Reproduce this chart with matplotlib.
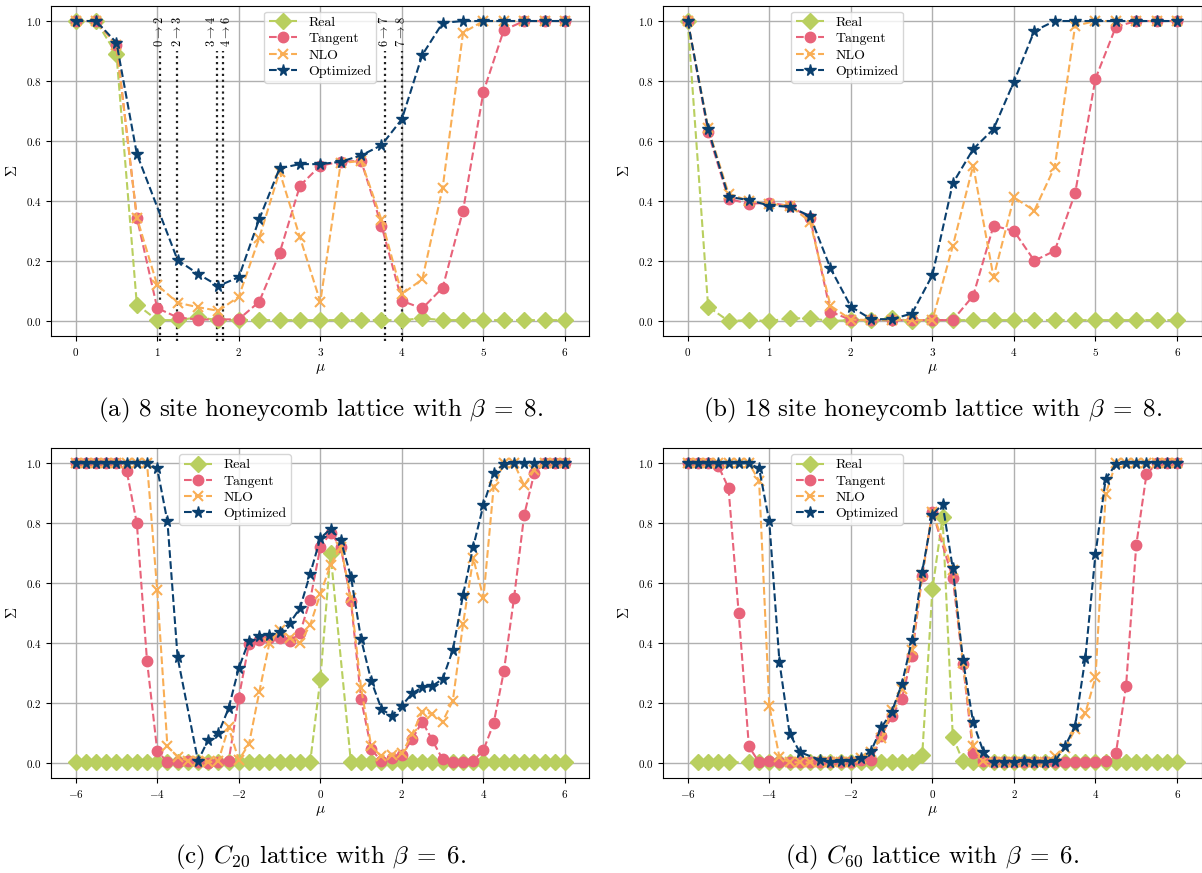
import numpy as np
import matplotlib
matplotlib.use("Agg")
import matplotlib.pyplot as plt
import matplotlib.transforms as mtransforms

plt.rcParams['font.family'] = 'serif'
plt.rcParams['font.serif'] = ['cmr10', 'DejaVu Serif']
plt.rcParams['mathtext.fontset'] = 'cm'
plt.rcParams['axes.formatter.use_mathtext'] = True

# chemical potential grids
mu_ab = np.linspace(0, 6, 25)
mu_cd = np.linspace(-6, 6, 49)

# (a) 8 site honeycomb, beta = 8
real_a = [1.0, 1.0, 0.89, 0.055, 0.003, 0.003, 0.012, 0.003, 0.003, 0.003, 0.003, 0.003, 0.003,
          0.003, 0.003, 0.003, 0.003, 0.009, 0.003, 0.003, 0.003, 0.003, 0.003, 0.003, 0.003]
tangent_a = [1.0, 1.0, 0.92, 0.345, 0.043, 0.012, 0.005, 0.005, 0.006, 0.064, 0.226, 0.451, 0.518,
             0.531, 0.534, 0.318, 0.067, 0.042, 0.111, 0.368, 0.764, 0.97, 1.0, 1.0, 1.0]
nlo_a = [1.0, 1.0, 0.92, 0.345, 0.12, 0.061, 0.046, 0.034, 0.081, 0.276, 0.498, 0.279, 0.064,
         0.526, 0.534, 0.337, 0.09, 0.139, 0.444, 0.961, 1.0, 1.0, 1.0, 1.0, 1.0]
opt_a = [1.0, 1.0, 0.928, 0.557, None, 0.203, 0.157, 0.117, 0.146, 0.339, 0.509, 0.523, 0.523,
         0.531, 0.552, 0.586, 0.673, 0.887, 0.994, 1.0, 1.0, 1.0, 1.0, 1.0, 1.0]

# level crossings marked in (a): line position, label position, label
cross_mu = [1.03, 1.245, 1.735, 1.81, 3.79, 4.0]
cross_text_mu = [1.03, 1.245, 1.665, 1.85, 3.79, 4.0]
cross_labels = [r'$0 \rightarrow 2$', r'$2 \rightarrow 3$', r'$3 \rightarrow 4$',
                r'$4 \rightarrow 6$', r'$6 \rightarrow 7$', r'$7 \rightarrow 8$']

# (b) 18 site honeycomb, beta = 8
real_b = [1.0, 0.048, 0.0, 0.003, 0.0, 0.009, 0.009, 0.0, 0.003, 0.003, 0.009, 0.0, 0.003,
          0.003, 0.003, 0.003, 0.003, 0.003, 0.003, 0.003, 0.003, 0.003, 0.003, 0.003, 0.003]
tangent_b = [1.0, 0.629, 0.407, 0.391, 0.394, 0.384, 0.344, 0.031, 0.004, 0.003, 0.003, 0.003, 0.003,
             0.003, 0.084, 0.318, 0.3, 0.201, 0.234, 0.426, 0.808, 0.981, 1.0, 1.0, 1.0]
nlo_b = [1.0, 0.644, 0.425, 0.40, 0.39, 0.385, 0.331, 0.051, 0.005, 0.003, 0.003, 0.003, 0.003,
         0.25, 0.518, 0.146, 0.412, 0.368, 0.514, 0.984, 1.0, 1.0, 1.0, 1.0, 1.0]
opt_b = [1.0, 0.639, 0.414, 0.403, 0.385, 0.381, 0.35, 0.176, 0.048, 0.006, 0.006, 0.025, 0.153,
         0.459, 0.573, 0.64, 0.798, 0.967, 1.0, 1.0, 1.0, 1.0, 1.0, 1.0, 1.0]

# (c) C20, beta = 6
real_c = [0.003] * 24 + [0.28, 0.70, None] + [0.003] * 22
tangent_c = [1.0, 1.0, 1.0, 1.0, 1.0, 0.975, 0.80, 0.341, 0.042, 0.003, 0.003, 0.008, 0.005,
             0.0, 0.003, 0.006, 0.219, 0.398, 0.411, 0.417, 0.417, 0.406, 0.434, 0.544, 0.72,
             0.768, 0.722, 0.542, 0.213, 0.047, 0.006, 0.018, 0.028, 0.08, 0.139, 0.076, 0.013,
             0.003, 0.003, 0.008, 0.044, 0.133, 0.306, 0.551, 0.828, 0.969, 1.0, 1.0, 1.0]
nlo_c = [1.0, 1.0, 1.0, 1.0, 1.0, 1.0, 1.0, 1.0, 0.576, 0.056, 0.022, 0.009, 0.006,
         0.003, 0.008, 0.12, 0.011, 0.064, 0.236, 0.40, 0.444, 0.417, 0.40, 0.461, 0.564,
         0.661, 0.722, 0.55, 0.25, 0.056, 0.024, 0.028, 0.033, 0.097, 0.172, 0.164, 0.139,
         0.209, 0.464, 0.683, 0.552, 0.92, 1.0, 1.0, 0.926, 0.978, 1.0, 1.0, 1.0]
opt_c = [1.0, 1.0, 1.0, 1.0, 1.0, 1.0, 1.0, 1.0, 0.983, 0.806, 0.353, None, 0.008,
         0.078, 0.10, 0.183, 0.317, 0.409, 0.424, 0.428, 0.439, 0.467, 0.517, 0.631, 0.75,
         0.781, 0.744, 0.622, 0.414, 0.274, 0.181, 0.158, 0.192, 0.233, 0.253, 0.258, 0.281,
         0.378, 0.561, 0.722, 0.861, 0.967, 0.998, 1.0, 1.0, 1.0, 1.0, 1.0, 1.0]

# (d) C60, beta = 6
real_d = ([None, 0.003, 0.003, 0.003, 0.003, None] + [0.003] * 17
          + [0.026, 0.58, 0.82, 0.089, 0.006] + [0.003] * 21)
tangent_d = [1.0, 1.0, 1.0, 0.991, 0.918, 0.50, 0.056, 0.003, 0.006, 0.003, 0.003, 0.003, 0.003,
             0.003, 0.003, 0.003, 0.005, 0.01, 0.01, 0.091, 0.156, 0.215, 0.359, 0.624, 0.839,
             None, 0.617, 0.33, 0.033, 0.006, 0.003, 0.003, 0.003, 0.003, 0.003, 0.003, 0.003,
             0.003, 0.003, 0.003, 0.003, 0.008, 0.033, 0.259, 0.728, 0.963, 1.0, 1.0, 1.0]
nlo_d = [1.0, 1.0, 1.0, 1.0, 1.0, 1.0, 1.0, 0.942, 0.192, 0.02, 0.003, 0.003, 0.003,
         0.003, 0.003, 0.003, 0.003, 0.017, 0.039, 0.083, 0.178, 0.247, 0.378, 0.626, 0.839,
         None, 0.644, 0.333, 0.058, 0.006, 0.003, 0.003, 0.003, 0.003, 0.003, 0.003, 0.024,
         0.05, 0.113, 0.167, 0.286, 0.898, 1.0, 1.0, 1.0, 1.0, 1.0, 1.0, 1.0]
opt_d = [1.0, 1.0, 1.0, 1.0, 1.0, 1.0, 1.0, 0.983, 0.806, 0.337, 0.098, 0.037, None,
         0.011, 0.003, 0.006, 0.008, 0.017, 0.042, 0.12, 0.17, 0.264, 0.411, 0.639, 0.828,
         0.864, 0.65, 0.344, 0.136, 0.039, 0.003, 0.003, 0.003, 0.008, 0.003, 0.003, 0.006,
         0.056, 0.124, 0.35, 0.698, 0.948, 0.997, 1.0, 1.0, 1.0, 1.0, 1.0, 1.0]

captions = [r'(a) 8 site honeycomb lattice with $\beta\;=\;8$.',
            r'(b) 18 site honeycomb lattice with $\beta\;=\;8$.',
            r'(c) $C_{20}$ lattice with $\beta\;=\;6$.',
            r'(d) $C_{60}$ lattice with $\beta\;=\;6$.']

styles = [('Real', '#b9cf5f', 'D', 8.5),
          ('Tangent', '#e8637a', 'o', 7.5),
          ('NLO', '#f9ae55', 'x', 7),
          ('Optimized', '#0a3f6e', '*', 8.5)]


def draw(ax, mu, series, legend_x):
    for (label, color, marker, ms), vals in zip(styles, series):
        x = [m for m, v in zip(mu, vals) if v is not None]
        y = [v for v in vals if v is not None]
        ax.plot(x, y, '--', color=color, marker=marker, markersize=ms, lw=1.5,
                mew=1.5 if marker == 'x' else 1, label=label)
    ax.set_ylim(-0.05, 1.05)
    ax.grid(True, color='#b0b0b0', lw=1)
    ax.set_axisbelow(True)
    ax.tick_params(labelsize=8)
    ax.set_xlabel(r'$\mu$', fontsize=11, labelpad=3)
    ax.set_ylabel(r'$\Sigma$', fontsize=11)
    ax.legend(loc='upper center', bbox_to_anchor=(legend_x, 1.0), fontsize=10,
              handlelength=2.0, borderpad=0.35, labelspacing=0.25, borderaxespad=0.4)


fig = plt.figure(figsize=(12.02, 8.73), dpi=100)
ax_a = fig.add_axes([0.0426, 0.6151, 0.4478, 0.3780])
ax_b = fig.add_axes([0.5518, 0.6151, 0.4478, 0.3780])
ax_c = fig.add_axes([0.0426, 0.1085, 0.4478, 0.3780])
ax_d = fig.add_axes([0.5518, 0.1085, 0.4478, 0.3780])

draw(ax_a, mu_ab, [real_a, tangent_a, nlo_a, opt_a], 0.5)
draw(ax_b, mu_ab, [real_b, tangent_b, nlo_b, opt_b], 0.342)
draw(ax_c, mu_cd, [real_c, tangent_c, nlo_c, opt_c], 0.342)
draw(ax_d, mu_cd, [real_d, tangent_d, nlo_d, opt_d], 0.342)

for ax in (ax_a, ax_b):
    ax.set_xlim(-0.3, 6.3)
    ax.set_xticks(range(0, 7))
for ax in (ax_c, ax_d):
    ax.set_xlim(-6.6, 6.6)
    ax.set_xticks(range(-6, 7, 2))

trans = mtransforms.blended_transform_factory(ax_a.transData, ax_a.transAxes)
for x, xt, lab in zip(cross_mu, cross_text_mu, cross_labels):
    ax_a.axvline(x, ymin=-0.015, ymax=0.865, color='#222222', ls=':', lw=1.6, zorder=1,
                 clip_on=False)
    ax_a.text(xt, 0.875, lab, transform=trans, rotation=90, ha='center', va='bottom', fontsize=9)

for ax, cap in zip((ax_a, ax_b, ax_c, ax_d), captions):
    pos = ax.get_position()
    y = 0.530 if pos.y0 > 0.5 else 0.018
    fig.text(pos.x0 + pos.width / 2, y, cap, ha='center', va='center', fontsize=18)

fig.savefig('out.png', dpi=100)
